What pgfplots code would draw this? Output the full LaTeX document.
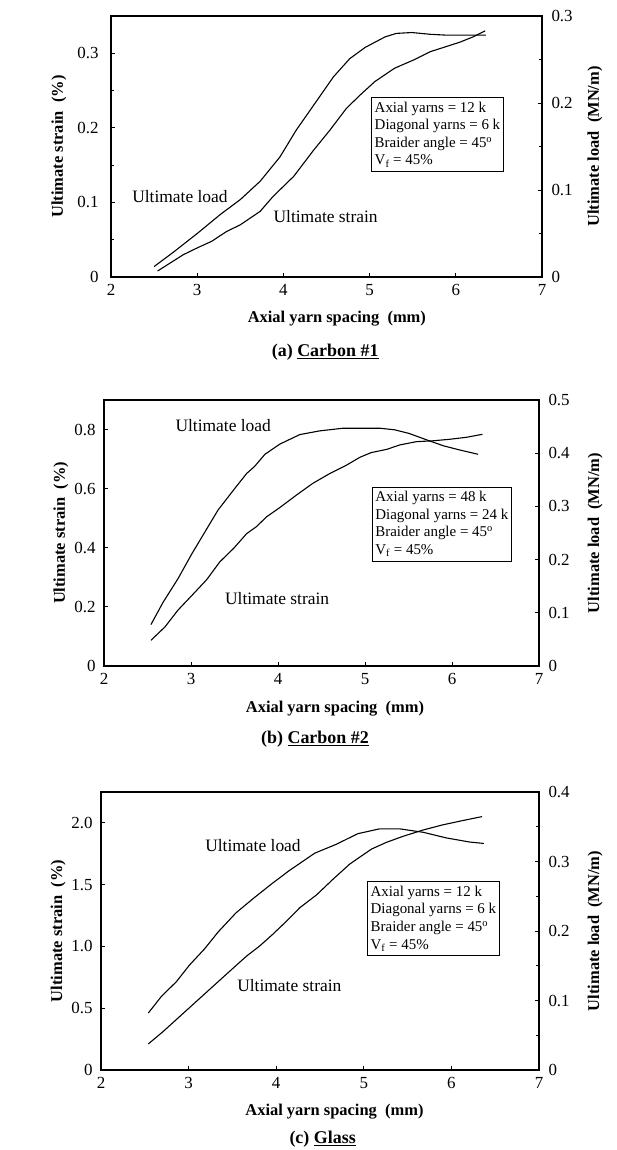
\documentclass[border=0pt]{standalone}
\usepackage{pgfplots}
\pgfplotsset{compat=1.18}
\usepackage{fontspec}
\setmainfont{Liberation Serif}
\tikzset{
  lbl/.style={font=\fontsize{17.5}{18}\selectfont},
  box/.style={draw, line width=0.8bp, anchor=north west, align=left, inner xsep=3bp, inner ysep=4bp,
     font=\fontsize{15}{17.7}\selectfont},
  ylab/.style={rotate=90, font=\bfseries\fontsize{16.5}{17}\selectfont},
  xlab/.style={font=\bfseries\fontsize{16.5}{17}\selectfont},
  capt/.style={font=\bfseries\fontsize{18}{18}\selectfont},
}
\begin{document}
\begin{tikzpicture}
\useasboundingbox (0,0) rectangle (617bp,-1150bp);
\pgfplotsset{
  base/.style={
    scale only axis, xmin=2, xmax=7, xtick={2,3,4,5,6,7},
    tick align=inside, major tick length=4bp, minor tick length=3bp,
    every tick/.style={black, line width=0.8bp},
    axis line style={line width=1.2bp},
    tick label style={font=\fontsize{17}{17}\selectfont},
    /pgf/number format/assume math mode=true,
    clip=false,
  },
  leftax/.style={base, xtick pos=bottom, ytick pos=left,
    yticklabel style={xshift=-5bp},
    xticklabel style={yshift=-4bp},
  },
  rightax/.style={base, axis x line=none, axis y line*=right, ytick pos=right,
    yticklabel style={xshift=6bp},
  },
  curve/.style={black, line width=1.1bp, mark=none},
}

% ---------------- (a) Carbon #1 ----------------
\begin{axis}[leftax, at={(111bp,-277bp)}, anchor=south west, width=431bp, height=261bp,
  ymin=0, ymax=0.35, ytick={0,0.1,0.2,0.3}, yticklabels={0,0.1,0.2,0.3},
  minor ytick={0.05,0.15,0.25}, yticklabel style={xshift=-4bp}]
\addplot[curve] coordinates {
(2.54,0.008) (2.69,0.019) (2.84,0.030) (3.00,0.039) (3.17,0.048) (3.34,0.061)
(3.50,0.070) (3.73,0.088) (3.88,0.108) (4.12,0.135) (4.35,0.170) (4.54,0.197)
(4.73,0.226) (4.89,0.244) (5.06,0.262) (5.29,0.280) (5.51,0.291) (5.70,0.302)
(6.05,0.315) (6.20,0.322) (6.34,0.330)};
\node[lbl] at (axis cs:2.80,0.108) {Ultimate load};
\node[lbl] at (axis cs:4.49,0.081) {Ultimate strain};
\node[box] at (axis cs:5.02,0.241) {Axial yarns = 12 k\\Diagonal yarns = 6 k\\Braider angle = 45\textsuperscript{o}\\V\textsubscript{f} = 45\%};
\node[xlab] at (axis description cs:0.524,0) [yshift=-42bp] {Axial yarn spacing\ \ (mm)};
\node[capt] at (axis description cs:0.497,0) [yshift=-75bp] {(a) \underline{Carbon \#1}};
\node[ylab] at (axis description cs:-0.121,0.5) {Ultimate strain\ \ (\%)};
\node[ylab] at (axis description cs:1.123,0.5) {Ultimate load\ \ (MN/m)};
\end{axis}
\begin{axis}[rightax, at={(111bp,-277bp)}, anchor=south west, width=431bp, height=261bp,
  ymin=0, ymax=0.3, ytick={0,0.1,0.2,0.3}, yticklabels={0,0.1,0.2,0.3},
  minor ytick={0.05,0.15,0.25}]
\addplot[curve] coordinates {
(2.50,0.012) (2.73,0.029) (3.00,0.050) (3.27,0.072) (3.50,0.089) (3.73,0.110)
(3.96,0.138) (4.15,0.169) (4.39,0.203) (4.58,0.230) (4.77,0.251) (4.95,0.264)
(5.18,0.276) (5.31,0.280) (5.49,0.281) (5.70,0.279) (5.89,0.278) (6.35,0.278)};
\end{axis}

% ---------------- (b) Carbon #2 ----------------
\begin{axis}[leftax, at={(104bp,-666bp)}, anchor=south west, width=435bp, height=266bp,
  ymin=0, ymax=0.9, ytick={0,0.2,0.4,0.6,0.8}, yticklabels={0,0.2,0.4,0.6,0.8}]
\addplot[curve] coordinates {
(2.54,0.087) (2.70,0.132) (2.85,0.189) (3.03,0.245) (3.18,0.292) (3.33,0.352)
(3.49,0.398) (3.64,0.448) (3.75,0.471) (3.87,0.505) (4.02,0.536) (4.21,0.578)
(4.40,0.618) (4.60,0.652) (4.79,0.680) (4.94,0.706) (5.07,0.722) (5.25,0.733)
(5.40,0.748) (5.59,0.759) (5.78,0.762) (5.97,0.767) (6.17,0.774) (6.35,0.784)};
\node[lbl] at (axis cs:3.37,0.812) {Ultimate load};
\node[lbl] at (axis cs:3.99,0.228) {Ultimate strain};
\node[box] at (axis cs:5.08,0.606) {Axial yarns = 48 k\\Diagonal yarns = 24 k\\Braider angle = 45\textsuperscript{o}\\V\textsubscript{f} = 45\%};
\node[xlab] at (axis description cs:0.531,0) [yshift=-43bp] {Axial yarn spacing\ \ (mm)};
\node[capt] at (axis description cs:0.485,0) [yshift=-73bp] {(b) \underline{Carbon \#2}};
\node[ylab] at (axis description cs:-0.099,0.5) {Ultimate strain\ \ (\%)};
\node[ylab] at (axis description cs:1.129,0.5) {Ultimate load\ \ (MN/m)};
\end{axis}
\begin{axis}[rightax, at={(104bp,-666bp)}, anchor=south west, width=435bp, height=266bp,
  ymin=0, ymax=0.5, ytick={0,0.1,0.2,0.3,0.4,0.5}, yticklabels={0,0.1,0.2,0.3,0.4,0.5}]
\addplot[curve] coordinates {
(2.54,0.078) (2.68,0.120) (2.85,0.164) (3.01,0.211) (3.16,0.252) (3.31,0.293)
(3.49,0.331) (3.64,0.362) (3.73,0.375) (3.85,0.398) (4.02,0.417) (4.25,0.435)
(4.48,0.442) (4.75,0.447) (5.17,0.447) (5.34,0.444) (5.51,0.437) (5.71,0.425)
(5.90,0.414) (6.09,0.406) (6.30,0.398)};
\end{axis}

% ---------------- (c) Glass ----------------
\begin{axis}[leftax, at={(101bp,-1070bp)}, anchor=south west, width=438bp, height=278bp,
  ymin=0, ymax=2.25, ytick={0,0.5,1.0,1.5,2.0}, yticklabels={0,0.5,1.0,1.5,2.0}]
\addplot[curve] coordinates {
(2.54,0.211) (2.71,0.312) (2.90,0.434) (3.09,0.556) (3.28,0.678) (3.47,0.800)
(3.66,0.921) (3.81,1.003) (3.96,1.098) (4.12,1.206) (4.27,1.314) (4.46,1.417)
(4.65,1.545) (4.84,1.667) (4.95,1.721) (5.09,1.789) (5.26,1.843) (5.45,1.892)
(5.68,1.943) (5.90,1.984) (6.13,2.019) (6.35,2.051)};
\node[lbl] at (axis cs:3.735,1.816) {Ultimate load};
\node[lbl] at (axis cs:4.15,0.686) {Ultimate strain};
\node[box] at (axis cs:5.04,1.526) {Axial yarns = 12 k\\Diagonal yarns = 6 k\\Braider angle = 45\textsuperscript{o}\\V\textsubscript{f} = 45\%};
\node[xlab] at (axis description cs:0.533,0) [yshift=-42bp] {Axial yarn spacing\ \ (mm)};
\node[capt] at (axis description cs:0.506,0) [yshift=-69bp] {(c) \underline{Glass}};
\node[ylab] at (axis description cs:-0.098,0.5) {Ultimate strain\ \ (\%)};
\node[ylab] at (axis description cs:1.128,0.5) {Ultimate load\ \ (MN/m)};
\end{axis}
\begin{axis}[rightax, at={(101bp,-1070bp)}, anchor=south west, width=438bp, height=278bp,
  ymin=0, ymax=0.4, ytick={0,0.1,0.2,0.3,0.4}, yticklabels={0,0.1,0.2,0.3,0.4},
  minor ytick={0.05,0.15,0.25,0.35}]
\addplot[curve] coordinates {
(2.54,0.082) (2.69,0.106) (2.86,0.127) (3.01,0.151) (3.18,0.174) (3.34,0.199)
(3.54,0.226) (3.74,0.247) (3.96,0.269) (4.15,0.287) (4.44,0.312) (4.69,0.325)
(4.93,0.340) (5.18,0.347) (5.41,0.347) (5.68,0.342) (5.94,0.334) (6.21,0.328)
(6.37,0.326)};
\end{axis}
\end{tikzpicture}
\end{document}
